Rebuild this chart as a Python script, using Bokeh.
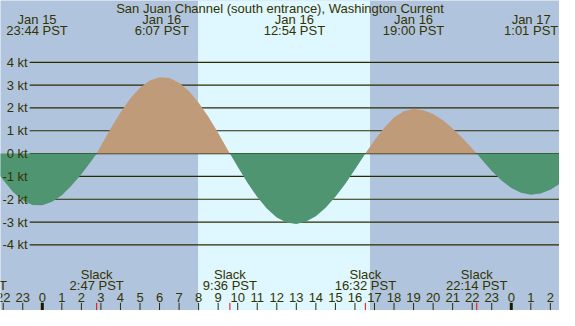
from bokeh.plotting import figure
from bokeh.models import Range1d
from bokeh.embed import file_html
from bokeh.resources import INLINE
from bokeh.core.properties import value

title_text = "San Juan Channel (south entrance), Washington Current"

# tidal current, hours from Jan 16 00:00 PST -> knots
hours = [-3.38, -2.5, -2.0, -1.5, -1.0, -0.5, 0.0, 0.5, 1.0, 1.5, 2.0, 2.5, 2.783,
         3.0, 3.5, 4.0, 4.5, 5.0, 5.5, 6.0, 6.5, 7.0, 7.5, 8.0, 8.5, 9.0, 9.5, 9.6,
         10.0, 10.5, 11.0, 11.5, 12.0, 12.5, 13.0, 13.5, 14.0, 14.5, 15.0, 15.5, 16.0, 16.5, 16.533,
         17.0, 17.5, 18.0, 18.5, 19.0, 19.5, 20.0, 20.5, 21.0, 21.5, 22.0, 22.233,
         22.5, 23.0, 23.5, 24.0, 24.5, 25.0, 25.5, 26.0, 26.5, 27.0]
knots = [0.0, -0.58, -1.16, -1.68, -2.06, -2.25, -2.26, -2.11, -1.82, -1.40, -0.90, -0.33, 0.0,
         0.34, 1.10, 1.80, 2.41, 2.88, 3.20, 3.34, 3.31, 3.10, 2.74, 2.23, 1.61, 0.90, 0.15, 0.0,
         -0.58, -1.28, -1.90, -2.42, -2.80, -3.02, -3.08, -2.98, -2.74, -2.37, -1.89, -1.33, -0.70, -0.04, 0.0,
         0.58, 1.13, 1.58, 1.86, 1.96, 1.90, 1.73, 1.46, 1.10, 0.68, 0.22, 0.0,
         -0.27, -0.76, -1.18, -1.51, -1.72, -1.80, -1.75, -1.58, -1.31, -0.96]

event_hours = [-0.267, 6.117, 12.9, 19.0, 25.017]
event_dates = ["Jan 15", "Jan 16", "Jan 16", "Jan 16", "Jan 17"]
event_times = ["23:44 PST", "6:07 PST", "12:54 PST", "19:00 PST", "1:01 PST"]

# slack before the window shows only the tail of its time label
slack_hours = [-3.38, 2.783, 9.6, 16.533, 22.233]
slack_times = ["20:37 PST", "2:47 PST", "9:36 PST", "16:32 PST", "22:14 PST"]
slack_name_hours = [2.783, 9.6, 16.533, 22.233]
slack_names = ["Slack", "Slack", "Slack", "Slack"]

sunrise = 7.97
sunset = 16.77

kt_levels = [4, 3, 2, 1, 0, -1, -2, -3, -4]
kt_labels = ["4 kt", "3 kt", "2 kt", "1 kt", "0 kt", "-1 kt", "-2 kt", "-3 kt", "-4 kt"]

hour_ticks = [-2, -1, 0, 1, 2, 3, 4, 5, 6, 7, 8, 9, 10, 11, 12, 13, 14, 15, 16,
              17, 18, 19, 20, 21, 22, 23, 24, 25, 26]
hour_labels = ["22", "23", "0", "1", "2", "3", "4", "5", "6", "7", "8", "9", "10", "11", "12",
               "13", "14", "15", "16", "17", "18", "19", "20", "21", "22", "23", "0", "1", "2"]
midnight_hours = [0, 24]

# ---- style / layout ----
NIGHT = "#b0c4de"
DAY = "#dff7ff"
FLOOD = "#bf9b7a"
EBB = "#509572"
INK = "#333300"
LINE = "#2b2b00"
FONT = value("Liberation Sans")
FS = value("13px")

X0, X1 = -2.139, 26.468
Y0, Y1 = -6.875, 6.708
GRID_X0 = -0.647
YLAB_X = -0.746
TITLE_Y = 6.375
DATE_Y = 5.875
TIME_Y = 5.375
SLACK_Y = -5.29
SLACKT_Y = -5.79
HOUR_Y = -6.29
TICK_TOP = -6.54

p = figure(width=559, height=310, x_range=Range1d(X0, X1), y_range=Range1d(Y0, Y1),
           output_backend="svg", toolbar_location=None, min_border=0,
           x_axis_location=None, y_axis_location=None,
           background_fill_color=NIGHT, border_fill_color=NIGHT, outline_line_color=None)
p.grid.visible = False

# daylight band
p.quad(left=[sunrise], right=[sunset], bottom=[Y0 - 1], top=[Y1 + 1],
       fill_color=DAY, line_color=None)

# grid lines
n = len(kt_levels)
p.segment(x0=[GRID_X0] * n, y0=kt_levels, x1=[X1 + 1] * n, y1=kt_levels,
          line_color=LINE, line_width=1.2)

# current fills
pos = [k if k > 0 else 0 for k in knots]
neg = [k if k < 0 else 0 for k in knots]
zeros = [0] * len(knots)
p.varea(x=hours, y1=zeros, y2=pos, fill_color=FLOOD)
p.varea(x=hours, y1=neg, y2=zeros, fill_color=EBB)

# y labels
p.text(x=[YLAB_X] * n, y=kt_levels, text=kt_labels, text_font=FONT, text_font_size=FS,
       text_color=INK, text_align="right", text_baseline="middle")

# title and event labels
p.text(x=[(X0 + X1) / 2], y=[TITLE_Y], text=[title_text], text_font=FONT, text_font_size=FS,
       text_color=INK, text_align="center", text_baseline="middle")
p.text(x=event_hours, y=[DATE_Y] * len(event_hours), text=event_dates, text_font=FONT,
       text_font_size=FS, text_color=INK, text_align="center", text_baseline="middle")
p.text(x=event_hours, y=[TIME_Y] * len(event_hours), text=event_times, text_font=FONT,
       text_font_size=FS, text_color=INK, text_align="center", text_baseline="middle")

# slack labels
p.text(x=slack_name_hours, y=[SLACK_Y] * len(slack_name_hours), text=slack_names, text_font=FONT,
       text_font_size=FS, text_color=INK, text_align="center", text_baseline="middle")
p.text(x=slack_hours, y=[SLACKT_Y] * len(slack_hours), text=slack_times, text_font=FONT,
       text_font_size=FS, text_color=INK, text_align="center", text_baseline="middle")

# hour ticks and labels
m = len(hour_ticks)
p.text(x=hour_ticks, y=[HOUR_Y] * m, text=hour_labels, text_font=FONT, text_font_size=FS,
       text_color=INK, text_align="center", text_baseline="middle")
p.segment(x0=hour_ticks, y0=[TICK_TOP] * m, x1=hour_ticks, y1=[Y0 - 1] * m,
          line_color=LINE, line_width=1)
p.segment(x0=midnight_hours, y0=[TICK_TOP] * 2, x1=midnight_hours, y1=[Y0 - 1] * 2,
          line_color="#1a1a00", line_width=3)
p.segment(x0=slack_hours[1:], y0=[TICK_TOP] * 4, x1=slack_hours[1:],
          y1=[Y0 - 1] * 4, line_color="#ff0000", line_width=1)

open("out.html", "w").write(file_html(p, INLINE))
